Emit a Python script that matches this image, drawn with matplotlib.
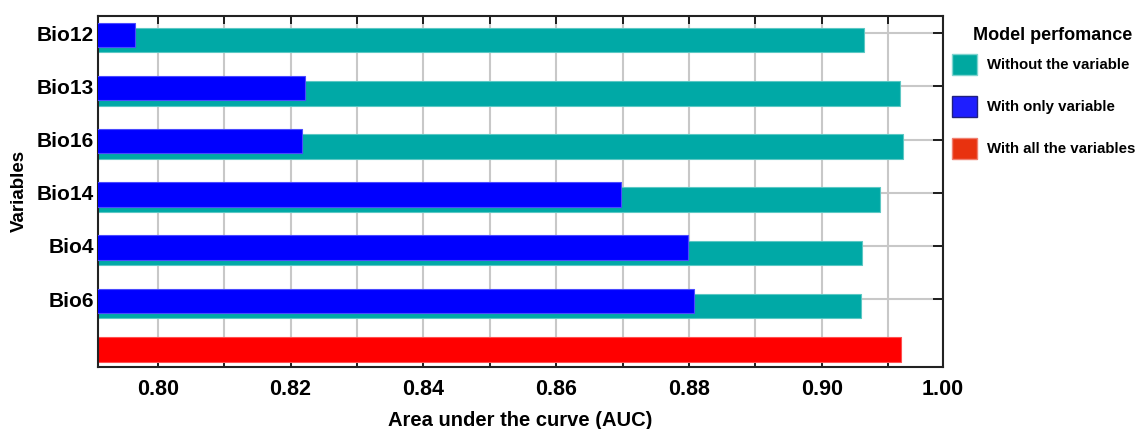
import matplotlib.pyplot as plt
from matplotlib.patches import Patch

plt.rcParams['font.family'] = ['Liberation Sans', 'DejaVu Sans']
plt.rcParams['font.weight'] = 'bold'

# AUC (top to bottom)
variables = ['Bio12', 'Bio13', 'Bio16', 'Bio14', 'Bio4', 'Bio6']
auc_without = [0.9063, 0.9117, 0.9122, 0.9087, 0.9061, 0.9059]
auc_only = [0.7966, 0.8222, 0.8217, 0.8697, 0.8798, 0.8808]
auc_all = 0.9119

x_ticks = [0.80, 0.82, 0.84, 0.86, 0.88, 0.90, 0.9182]
x_ticklabels = ['0.80', '0.82', '0.84', '0.86', '0.88', '0.90', '1.00']
x_minor = [0.81, 0.83, 0.85, 0.87, 0.89, 0.91]

teal = '#00a9a6'
blue = '#0000ff'
red = '#ff0000'

fig = plt.figure(figsize=(11.42, 4.29), dpi=100)
ax = fig.add_axes([0.0858, 0.1452, 0.7397, 0.8182])

pos = list(range(len(variables)))
ax.barh([p + 0.13 for p in pos], auc_without, height=0.46, color=teal,
        edgecolor='#5cc8c4', linewidth=0.8, zorder=2)
ax.barh([p + 0.03 for p in pos], auc_only, height=0.46, color=blue,
        edgecolor='#4a4aff', linewidth=0.8, zorder=3)
ax.barh(len(variables) - 0.05, auc_all, height=0.47, color=red,
        edgecolor='#ff5050', linewidth=0.8, zorder=2)

ax.set_xlim(0.791, 0.9182)
ax.set_ylim(6.27, -0.33)

ax.set_xticks(x_ticks)
ax.set_xticklabels(x_ticklabels)
ax.set_xticks(x_minor, minor=True)
ax.set_yticks(pos)
ax.set_yticklabels(variables)

ax.grid(axis='x', which='both', color='#c8c8c8', linewidth=1.5, zorder=0)
ax.grid(axis='y', color='#c8c8c8', linewidth=1.5, zorder=0)
ax.set_axisbelow(True)

ax.tick_params(axis='x', which='both', direction='in', top=True, length=6,
               width=1.2, labelsize=15.5, pad=9)
ax.tick_params(axis='y', left=False, right=True, direction='in', length=7,
               width=1.2, labelsize=15, pad=3)
for s in ax.spines.values():
    s.set_linewidth(1.5)
    s.set_color('#222222')

ax.set_xlabel('Area under the curve (AUC)', fontsize=14.5, fontweight='bold', labelpad=8)
ax.set_ylabel('Variables', fontsize=13.5, fontweight='bold', labelpad=6)

# legend: title as separate text so its gap can be set
fig.text(0.9215, 0.918, 'Model perfomance', fontsize=13, fontweight='bold',
         ha='center', va='center')
handles = [Patch(facecolor='#00a8a0', edgecolor='#7fd4cf'),
           Patch(facecolor='#1e1eff', edgecolor='#202080'),
           Patch(facecolor='#e8320f', edgecolor='#f08070')]
fig.legend(handles, ['Without the variable', 'With only variable', 'With all the variables'],
           loc='upper left', bbox_to_anchor=(0.822, 0.905), frameon=False,
           fontsize=10.8, handlelength=1.65, handleheight=1.7,
           labelspacing=1.45, handletextpad=0.7)

fig.savefig('out.png', dpi=100)
